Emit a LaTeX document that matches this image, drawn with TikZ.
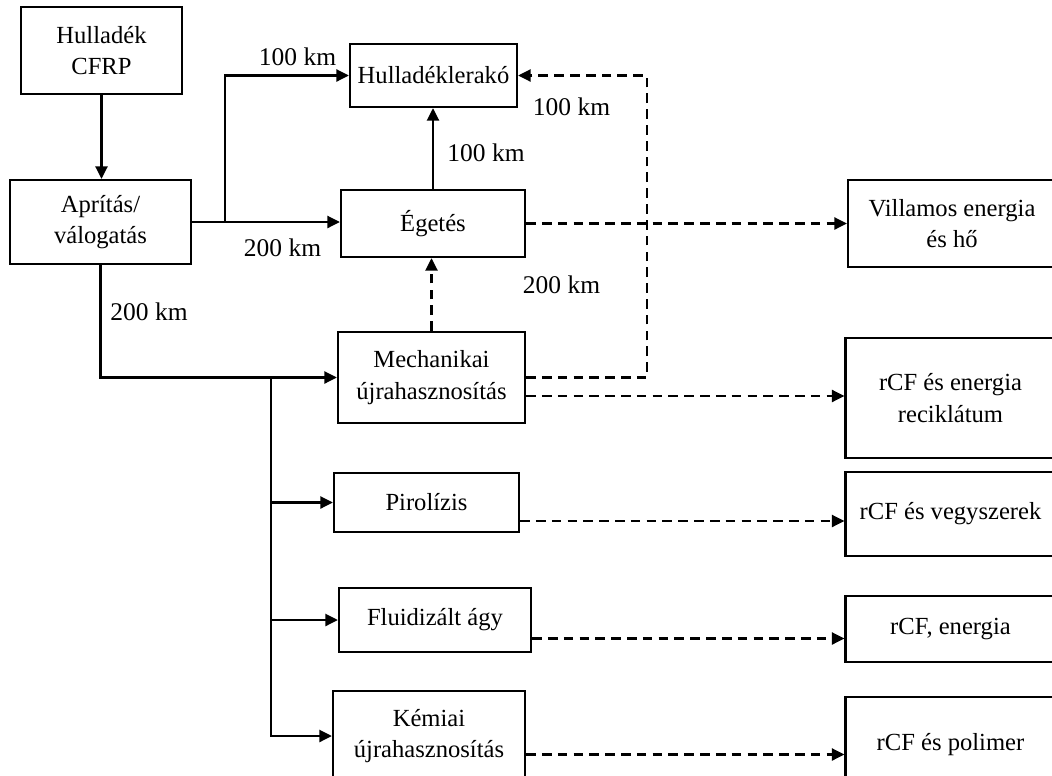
\documentclass[tikz,border=0pt]{standalone}
\usepackage{fontspec}
\setmainfont{Liberation Serif}
\usetikzlibrary{arrows.meta}
\tikzset{
	box/.style={draw,line width=1.3pt,align=center,inner sep=0pt,font=\fontsize{14}{18}\selectfont},
	km/.style={inner sep=0pt,font=\fontsize{14.5}{17}\selectfont},
	flow/.style={line width=1.3pt,-{Triangle[length=0.25cm,width=0.24cm]}},
	flowdash/.style={flow,dash pattern=on 5.5pt off 3.5pt},
}

\begin{document}
\begin{tikzpicture}[x=0.02cm,y=-0.02cm]
	\useasboundingbox (0,0) rectangle (1052,775);
	\clip (0,0) rectangle (1052,775);	%right and bottom boxes run off the page

	%BOXES LEFT
	\node[box,minimum width=3.22cm,minimum height=1.74cm] (cfrp) at (101.5,50.5) {Hulladék\\CFRP};
	\node[box,minimum width=3.62cm,minimum height=1.68cm] (apr) at (100.5,222) {Aprítás/\\válogatás};
	\node[box,minimum width=3.34cm,minimum height=1.26cm] (lerako) at (433.5,75.5) {Hulladéklerakó};
	\node[box,minimum width=3.68cm,minimum height=1.34cm] (eget) at (433,223.5) {Égetés};
	\node[box,minimum width=3.74cm,minimum height=1.82cm] (mech) at (431.5,377.5) {Mechanikai\\újrahasznosítás};
	\node[box,minimum width=3.70cm,minimum height=1.18cm] (pirol) at (426.5,502.5) {Pirolízis};
	\node[box,minimum width=3.84cm,minimum height=1.28cm] (fluid) at (435,620) {Fluidizált ágy};
	\node[box,minimum width=3.84cm,minimum height=1.80cm] (kem) at (429,736) {Kémiai\\újrahasznosítás};

	%BOXES RIGHT
	\node[box,minimum width=4.16cm,minimum height=1.74cm] (villamos) at (952,223.5) {Villamos energia\\és hő};
	\node[box,minimum width=4.20cm,minimum height=2.40cm] (recik) at (950.5,398) {rCF és energia\\reciklátum};
	\node[box,minimum width=4.20cm,minimum height=1.68cm] (vegy) at (950.5,514) {rCF és vegyszerek};
	\node[box,minimum width=4.20cm,minimum height=1.32cm] (energ) at (950.5,629) {rCF, energia};
	\node[box,minimum width=4.20cm,minimum height=1.92cm] (polim) at (950.5,745) {rCF és polimer};

	%SOLID ARROWS
	\draw[flow] (cfrp.south) -- (cfrp.south |- apr.north);
	\draw[flow] (apr.east) -- (apr.east -| eget.west);
	\coordinate (split) at (225,222);
	\draw[flow] (split) |- (lerako.west);
	\draw[flow] (eget.north) -- (eget.north |- lerako.south);
	\draw[flow] (apr.south) |- (mech.west);
	\coordinate (trunk) at (271,377.5);
	\foreach \n in {pirol,fluid,kem}
	\draw[flow] (trunk) |- (\n.west);

	%DASHED ARROWS
	\draw[flowdash] (mech.north) -- (mech.north |- eget.south);
	\draw[flowdash] (eget.east) -- (eget.east -| villamos.west);
	\coordinate (bend) at (647,75.5);
	\draw[flowdash] (mech.east) -| (bend) -- (lerako.east);
	\foreach \a/\b in {mech/recik,pirol/vegy,fluid/energ,kem/polim}
	\draw[flowdash] ([yshift=-0.37cm]\a.east) coordinate (out) -- (out -| \b.west);

	%DISTANCES
	\node[km] (d1) at (297.5,57) {100 km};
	\node[km] (d2) at (282.5,248) {200 km};
	\node[km] (d3) at (486,153) {100 km};
	\node[km] (d4) at (571.5,107) {100 km};
	\node[km] (d5) at (561.5,285) {200 km};
	\node[km] (d6) at (149,312) {200 km};
\end{tikzpicture}
\end{document}
